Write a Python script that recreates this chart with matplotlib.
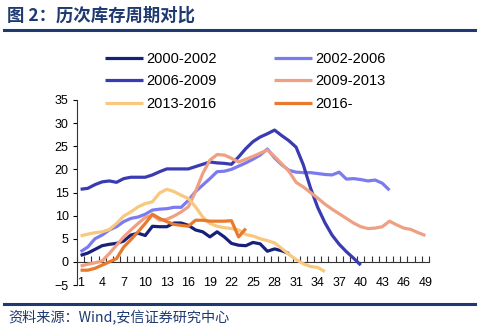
import numpy as np
import matplotlib
matplotlib.use("Agg")
import matplotlib.pyplot as plt
from matplotlib.lines import Line2D

plt.rcParams['font.family'] = ['Liberation Sans', 'Noto Sans CJK SC', 'DejaVu Sans']

# data
s2000 = [1.4, 1.9, 2.7, 3.5, 3.8, 4.0, 4.5, 5.8, 6.2, 5.7, 7.7, 7.6, 7.6, 8.4, 8.4,
         7.9, 6.9, 6.5, 5.4, 6.5, 5.4, 4.0, 3.6, 3.5, 4.2, 3.9, 2.3, 2.8, 2.4, 1.8]
s2002 = [2.2, 3.2, 5.0, 5.8, 6.9, 7.6, 8.7, 9.4, 9.7, 10.3, 11.2, 11.4, 11.5, 11.8, 11.8,
         13.3, 15.2, 16.6, 18.0, 19.5, 19.6, 20.0, 20.7, 21.4, 22.2, 23.1, 24.4, 22.5, 21.0, 19.8,
         19.4, 19.3, 19.3, 19.1, 18.9, 18.8, 19.4, 17.9, 18.0, 17.8, 17.5, 17.7, 17.0, 15.5]
s2006 = [15.7, 15.9, 16.7, 17.3, 17.5, 17.2, 18.0, 18.3, 18.3, 18.3, 18.8, 19.5, 20.1, 20.1, 20.1,
         20.1, 20.6, 21.1, 21.6, 21.4, 21.3, 21.1, 22.7, 24.5, 26.0, 27.0, 27.7, 28.5, 27.3, 26.2,
         24.8, 21.0, 16.0, 11.8, 8.5, 5.8, 3.8, 2.2, 0.8, -0.7]
s2009 = [-0.9, -0.5, -0.2, 0.2, 1.8, 3.6, 5.4, 6.9, 8.3, 9.6, 10.1, 9.0, 9.2, 9.9, 10.8,
         11.9, 15.2, 19.1, 22.0, 23.2, 23.1, 22.4, 21.6, 22.2, 22.8, 23.5, 24.2, 22.8, 21.2, 19.6,
         17.2, 16.2, 15.0, 13.8, 12.5, 11.4, 10.4, 9.4, 8.4, 7.6, 7.2, 7.3, 7.6, 8.8, 8.0,
         7.3, 7.0, 6.3, 5.7]
s2013 = [5.6, 6.0, 6.3, 6.5, 7.0, 8.3, 9.9, 10.8, 11.9, 12.6, 13.0, 14.9, 15.7, 15.2, 14.4,
         13.7, 11.9, 9.7, 8.3, 7.7, 7.4, 7.2, 6.9, 5.9, 5.6, 5.0, 4.6, 4.1, 2.9, 1.6,
         0.5, -0.4, -1.0, -1.2, -2.1]
s2016 = [-1.8, -1.8, -1.4, -0.7, 0.0, 0.7, 3.2, 4.8, 6.5, 8.3, 10.3, 9.4, 8.7, 8.1, 7.9,
         7.7, 9.0, 9.0, 8.8, 8.8, 8.8, 8.9, 5.4, 7.2]

series = [s2000, s2002, s2006, s2009, s2013, s2016]
labels = ['2000-2002', '2002-2006', '2006-2009', '2009-2013', '2013-2016', '2016-']
colors = ['#18217a', '#7b7bf0', '#3a3ab2', '#efa082', '#f7c87e', '#e9792c']
xticks = list(range(1, 50, 3))

navy = '#1f3a70'

fig = plt.figure(figsize=(4.85, 3.29), dpi=100)
ax = fig.add_axes([77/485, 1-285/329, 352/485, 185/329])

for s, lab, c in zip(series, labels, colors):
    x = np.arange(1, len(s)+1)
    ax.plot(x, s, color=c, lw=2.3, label=lab, solid_capstyle='butt')

ax.set_xlim(0.5, 49.5)
ax.set_ylim(-5, 35)
ax.set_yticks(range(-5, 36, 5))
ax.set_xticks(xticks)
ax.tick_params(axis='x', length=0, pad=-5.5, labelsize=9)
ax.tick_params(axis='y', direction='out', length=3, width=0.8, pad=3, labelsize=9)
for sp in ['top', 'right', 'bottom']:
    ax.spines[sp].set_visible(False)
ax.spines['left'].set_color('#333333')
ax.spines['left'].set_linewidth(0.8)

# category axis crossing at zero, ticks between categories pointing up
sec = ax.secondary_xaxis(5/40)
sec.set_xticks(np.arange(0.5, 50, 1))
sec.set_xticklabels([])
sec.tick_params(direction='in', length=4.5, width=0.8, color='#333333')
sec.spines['bottom'].set_color('#333333')
sec.spines['bottom'].set_linewidth(0.8)

h, l = ax.get_legend_handles_labels()
order = [0, 2, 4, 1, 3, 5]
fig.legend([h[i] for i in order], [l[i] for i in order], ncol=2,
           loc='upper left', bbox_to_anchor=(105/485, 1-52/329),
           frameon=False, fontsize=10.5, handlelength=2.6, handletextpad=0.25,
           columnspacing=3.9, labelspacing=0.58, borderpad=0, borderaxespad=0)

# header and footer
fig.text(7/485, 1-16/329, '图 2：历次库存周期对比', fontsize=12.5, fontweight='bold',
         color=navy, va='center', ha='left', family=['Noto Sans CJK SC', 'DejaVu Sans'])
fig.add_artist(Line2D([4/485, 475/485], [1-30/329, 1-30/329], color=navy, lw=2.2))
fig.add_artist(Line2D([4/485, 475/485], [1-304/329, 1-304/329], color=navy, lw=2.2))
fig.text(8/485, 1-317/329, '资料来源：Wind,安信证券研究中心', fontsize=10.2, style='italic',
         color=navy, va='center', ha='left', family=['Noto Sans CJK SC', 'DejaVu Sans'])

fig.savefig('out.png', dpi=100)
